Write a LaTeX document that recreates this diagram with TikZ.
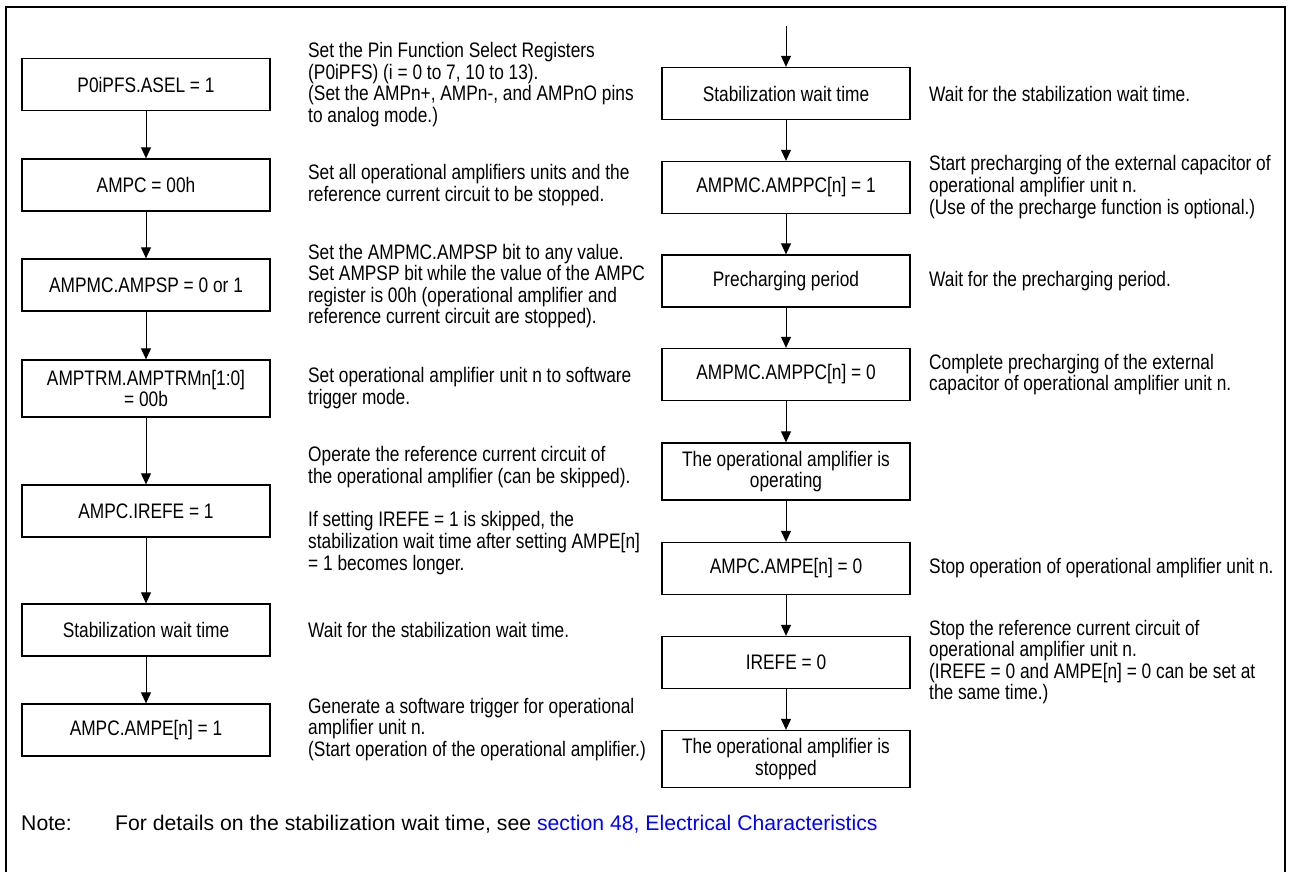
\documentclass[tikz,border=0pt]{standalone}
\usepackage{fontspec}
\setmainfont{Liberation Sans}[FakeStretch=0.824]
\newfontfamily\notefont{Liberation Sans}
\usetikzlibrary{arrows.meta}
\definecolor{linkblue}{RGB}{0,0,255}
\newcommand{\fs}{\fontsize{21}{21.6}\selectfont}
\newcommand{\nfs}{\notefont\fontsize{21.2}{24}\selectfont}
\begin{document}
\begin{tikzpicture}[x=1pt,y=-1pt,
  box/.style={draw, line width=1.3pt, minimum width=248pt, minimum height=52pt, align=center, inner sep=2pt, font=\fs},
  tall/.style={minimum height=57pt},
  desc/.style={anchor=west, align=left, inner sep=0pt, font=\fs},
  note/.style={anchor=base west, inner sep=0pt, font=\nfs},
  arr/.style={-{Triangle[length=11pt,width=10pt]}, line width=1pt}]
\useasboundingbox (0,0) rectangle (1290,872);
\draw[line width=2.6pt] (6,872) -- (6,7) -- (1285,7) -- (1285,872);
% left column
\node[box] (L1) at (146,84.5) {P0iPFS.ASEL = 1};
\node[box] (L2) at (146,185) {AMPC = 00h};
\node[box] (L3) at (146,285) {AMPMC.AMPSP = 0 or 1};
\node[box,tall] (L4) at (146,388.5) {AMPTRM.AMPTRMn[1:0]\\= 00b};
\node[box] (L5) at (146,511) {AMPC.IREFE = 1};
\node[box] (L6) at (146,630) {Stabilization wait time};
\node[box] (L7) at (146,730) {AMPC.AMPE[n] = 1};
\foreach \a/\b in {L1/L2,L2/L3,L3/L4,L4/L5,L5/L6,L6/L7}
  \draw[arr] (\a.south) -- (\b.north);
% left descriptions
\node[desc] (D1) at (308,84.5) {Set the Pin Function Select Registers\\(P0iPFS) (i = 0 to 7, 10 to 13).\\(Set the AMPn+, AMPn-, and AMPnO pins\\to analog mode.)};
\node[desc] (D2) at (308,185) {Set all operational amplifiers units and the\\reference current circuit to be stopped.};
\node[desc] (D3) at (308,286) {Set the AMPMC.AMPSP bit to any value.\\Set AMPSP bit while the value of the AMPC\\register is 00h (operational amplifier and\\reference current circuit are stopped).};
\node[desc] (D4) at (308,388) {Set operational amplifier unit n to software\\trigger mode.};
\node[desc] (D5a) at (308,467) {Operate the reference current circuit of\\the operational amplifier (can be skipped).};
\node[desc] (D5b) at (308,543) {If setting IREFE = 1 is skipped, the\\stabilization wait time after setting AMPE[n]\\= 1 becomes longer.};
\node[desc] (D6) at (308,630) {Wait for the stabilization wait time.};
\node[desc] (D7) at (308,729.5) {Generate a software trigger for operational\\amplifier unit n.\\(Start operation of the operational amplifier.)};
% right column
\coordinate (Rtop) at (786,26);
\node[box] (R1) at (786,93.5) {Stabilization wait time};
\node[box] (R2) at (786,187.5) {AMPMC.AMPPC[n] = 1};
\node[box] (R3) at (786,281) {Precharging period};
\node[box] (R4) at (786,374.5) {AMPMC.AMPPC[n] = 0};
\node[box,tall] (R5) at (786,471.5) {The operational amplifier is\\operating};
\node[box] (R6) at (786,568.5) {AMPC.AMPE[n] = 0};
\node[box] (R7) at (786,662.5) {IREFE = 0};
\node[box,tall] (R8) at (786,759) {The operational amplifier is\\stopped};
\draw[arr] (Rtop) -- (R1.north);
\foreach \a/\b in {R1/R2,R2/R3,R3/R4,R4/R5,R5/R6,R6/R7,R7/R8}
  \draw[arr] (\a.south) -- (\b.north);
% right descriptions
\node[desc] (E1) at (929,93.5) {Wait for the stabilization wait time.};
\node[desc] (E2) at (929,187) {Start precharging of the external capacitor of\\operational amplifier unit n.\\(Use of the precharge function is optional.)};
\node[desc] (E3) at (929,281) {Wait for the precharging period.};
\node[desc] (E4) at (929,374.5) {Complete precharging of the external\\capacitor of operational amplifier unit n.};
\node[desc] (E6) at (929,568.5) {Stop operation of operational amplifier unit n.};
\node[desc] (E7) at (929,662) {Stop the reference current circuit of\\operational amplifier unit n.\\(IREFE = 0 and AMPE[n] = 0 can be set at\\the same time.)};
% note
\node[note] (N1) at (21,830) {Note:};
\node[note] (N2) at (115,830) {For details on the stabilization wait time, see \textcolor{linkblue}{section 48, Electrical Characteristics}};
\end{tikzpicture}
\end{document}
